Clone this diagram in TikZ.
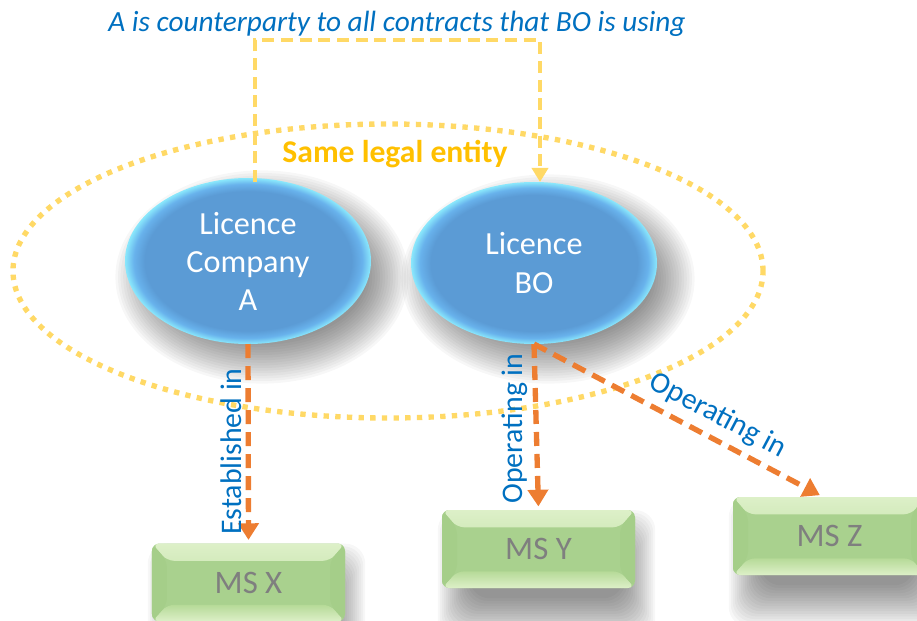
\documentclass[tikz,border=0pt]{standalone}
\usepackage{fontspec}
\setmainfont{Carlito}
\usetikzlibrary{shapes.geometric, arrows.meta, calc, backgrounds}

\definecolor{tblue}{HTML}{0070C0}
\definecolor{ydash}{HTML}{FFD966}
\definecolor{gold}{HTML}{FFC000}
\definecolor{eblue}{HTML}{5B9BD5}
\definecolor{eblue2}{HTML}{68B2EC}
\definecolor{erim}{HTML}{8AE8FC}
\definecolor{orng}{HTML}{ED7D31}
\definecolor{gbox}{HTML}{A9D18E}
\definecolor{gboxtop}{HTML}{DDF0C8}
\definecolor{gboxl}{HTML}{B6DA98}
\definecolor{gboxs}{HTML}{A5CE89}
\definecolor{gtext}{HTML}{7F7F7F}

\pgfdeclareradialshading{glowell}{\pgfpoint{0bp}{0bp}}{color(0bp)=(eblue); color(21bp)=(eblue); color(23.2bp)=(eblue2); color(25bp)=(erim); color(50bp)=(erim)}

\tikzset{
  lic/.style={ellipse, shade, shading=glowell, text=white, align=center,
    font=\fontsize{27.5}{32.5}\selectfont, inner sep=0pt, outer sep=0pt,
    minimum width=7.38cm},
  entity/.style={ellipse, draw=ydash, line width=0.16cm, dash pattern=on 0.16cm off 0.19cm,
    inner sep=0pt, outer sep=0pt, minimum width=22.5cm, minimum height=8.82cm},
  shadowlayer/.style={fill=black, opacity=0.03},
  msbox/.style={rectangle, rounded corners=0.22cm, fill=gbox, text=gtext,
    font=\fontsize{28}{32}\selectfont, minimum width=5.79cm, minimum height=2.34cm,
    inner sep=0pt,
    path picture={
      \shade[top color=gboxtop, bottom color=gboxl]
        (path picture bounding box.north west) -- (path picture bounding box.north east)
        -- ([xshift=-0.45cm,yshift=-0.52cm]path picture bounding box.north east)
        -- ([xshift=0.45cm,yshift=-0.52cm]path picture bounding box.north west) -- cycle;
      \shade[top color=gboxl, bottom color=gboxtop]
        (path picture bounding box.south west) -- (path picture bounding box.south east)
        -- ([xshift=-0.45cm,yshift=0.5cm]path picture bounding box.south east)
        -- ([xshift=0.45cm,yshift=0.5cm]path picture bounding box.south west) -- cycle;
      \fill[gboxs]
        (path picture bounding box.north west)
        -- ([xshift=0.45cm,yshift=-0.52cm]path picture bounding box.north west)
        -- ([xshift=0.45cm,yshift=0.5cm]path picture bounding box.south west)
        -- (path picture bounding box.south west) -- cycle;
      \fill[gboxs]
        (path picture bounding box.north east)
        -- ([xshift=-0.45cm,yshift=-0.52cm]path picture bounding box.north east)
        -- ([xshift=-0.45cm,yshift=0.5cm]path picture bounding box.south east)
        -- (path picture bounding box.south east) -- cycle;
    }},
  yconn/.style={draw=ydash, line width=0.12cm, dash pattern=on 0.36cm off 0.2cm,
    -{Triangle[length=0.42cm, width=0.48cm]}},
  oconn/.style={draw=orng, line width=0.16cm, dash pattern=on 0.42cm off 0.24cm,
    -{Triangle[length=0.5cm, width=0.6cm]}, shorten >=0.1cm},
  lbl/.style={text=tblue, font=\fontsize{25.5}{29}\selectfont, inner sep=3pt},
}

% soft shadows built from stacked translucent layers
\newcommand{\myellshadow}[3]{%
  \foreach \k in {0,...,16}{%
    \fill[shadowlayer] ($(#1)+(14,16)$) ellipse [x radius={#2-18+2.6*\k}, y radius={#3-18+2.6*\k}];}}
\newcommand{\myboxshadow}[1]{%
  \foreach \k in {0,...,16}{%
    \fill[shadowlayer, rounded corners=0.6cm]
      ($(#1.north west)+(8+20-2.0*\k, 26+16-2.6*\k)$) rectangle
      ($(#1.south east)+(8-20+2.0*\k, 26-16+2.6*\k)$);}}

\begin{document}
\begin{tikzpicture}[x=0.03cm, y=-0.03cm]
  \useasboundingbox (0,0) rectangle (917,621);
  \clip (0,0) rectangle (917,621);

  % licence ellipses
  \node[lic, minimum height=4.98cm] (A) at (248,261) {Licence\\Company\\A};
  \node[lic, minimum height=4.86cm] (BO) at (534,263) {Licence\\BO};

  % MS boxes
  \node[msbox] (X) at (248.5,582.5) {MS X};
  \node[msbox] (Y) at (538.5,549) {MS Y};
  \node[msbox] (Z) at (829.5,536) {MS Z};

  \begin{scope}[on background layer]
    \myellshadow{A.center}{123}{83}
    \myellshadow{BO.center}{123}{81}
    \myboxshadow{X}
    \myboxshadow{Y}
    \myboxshadow{Z}
  \end{scope}

  % same legal entity
  \node[entity] (ent) at (388,271) {};
  \node[text=gold, font=\bfseries\fontsize{27}{30}\selectfont, anchor=base] (entlbl) at (395,163) {Same legal entity};

  % title and counterparty connector
  \node[text=tblue, font=\itshape\fontsize{25}{28}\selectfont, anchor=base] (title) at (397,32)
    {A is counterparty to all contracts that BO is using};
  \coordinate (ytop) at (0,40);
  \coordinate (ya) at ($(A.north)+(7,4)$);
  \coordinate (yb) at ($(BO.north)+(6,0)$);
  \draw[yconn] (ya) -- (ya |- ytop) -| (yb);

  % orange connectors
  \draw[oconn] (A.south) -- (X.north)
    node[lbl, pos=0.54, rotate=90, anchor=south] (lx) {Established in};
  \draw[oconn] (BO.south) -- (Y.north)
    node[lbl, pos=0.51, rotate=90, anchor=south, inner sep=5pt] (ly) {Operating in};
  \draw[oconn] (BO.south) -- ([xshift=-0.2cm]Z.north)
    node[lbl, pos=0.6, sloped, anchor=south, inner sep=6pt] (lz) {Operating in};
\end{tikzpicture}
\end{document}
